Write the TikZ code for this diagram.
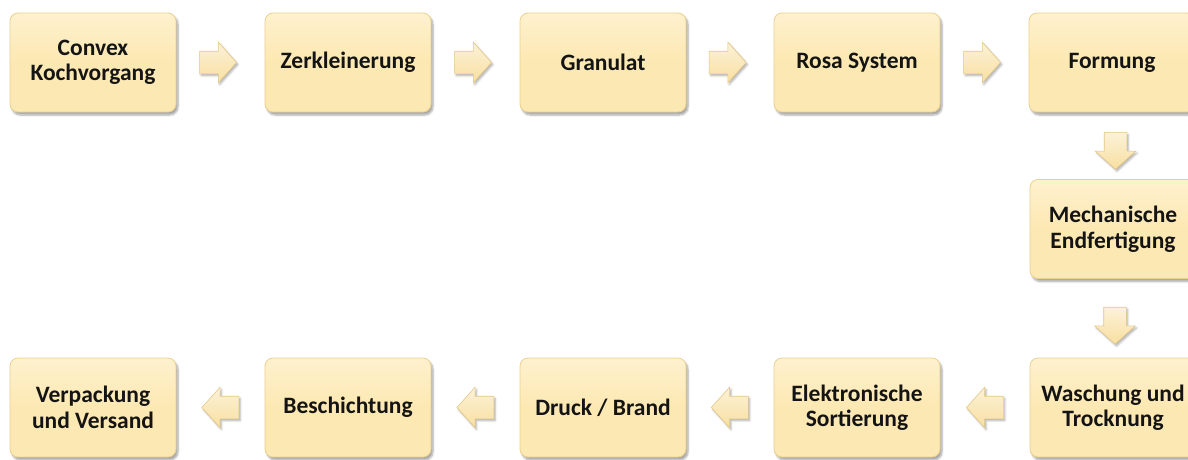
\documentclass[tikz,border=0pt]{standalone}
\usepackage{fontspec}
\setmainfont{Carlito}
\usetikzlibrary{shapes.arrows,shadows.blur,calc}
\definecolor{boxfill}{HTML}{FCE8B2}
\definecolor{boxtop}{HTML}{FEF1CE}
\definecolor{boxedge}{HTML}{EBD08E}
\definecolor{arrfill}{HTML}{F8DFA0}
\definecolor{arredge}{HTML}{E3C786}
\definecolor{txt}{HTML}{141414}
\tikzset{
  stepbox/.style={draw=boxedge, line width=0.8pt, rounded corners=8pt,
    top color=boxtop, bottom color=boxfill, middle color=boxfill,
    minimum width=166pt, minimum height=99pt, inner sep=0pt,
    align=center, text=txt,
    font=\fontsize{23.5pt}{25.5pt}\selectfont\bfseries,
    blur shadow={shadow xshift=2pt, shadow yshift=-3pt, shadow blur steps=6, shadow opacity=35}},
  fatarrow/.style={single arrow, draw=arredge, line width=0.6pt,
    top color=white!60!arrfill, bottom color=arrfill,
    minimum height=37pt, inner xsep=0pt, inner ysep=11pt,
    single arrow head extend=9pt, single arrow tip angle=96,
    blur shadow={shadow xshift=1.5pt, shadow yshift=-2pt, shadow blur steps=4, shadow opacity=30}},
}
\begin{document}
\begin{tikzpicture}[x=1pt,y=-1pt]
\clip (0,0) rectangle (1188,459);
\useasboundingbox (0,0) rectangle (1188,459);
% top row
\node[stepbox] (a1) at (93,62.5) {Convex\\Kochvorgang};
\node[stepbox] (a2) at (348,62.5) {Zerkleinerung};
\node[stepbox] (a3) at (603,62.5) {Granulat};
\node[stepbox] (a4) at (857,62.5) {Rosa System};
\node[stepbox] (a5) at (1112,62.5) {Formung};
% middle
\node[stepbox] (m1) at (1113,229) {Mechanische\\Endfertigung};
% bottom row
\node[stepbox] (b5) at (1113,407.5) {Waschung und\\Trocknung};
\node[stepbox] (b4) at (857,407.5) {Elektronische\\Sortierung};
\node[stepbox] (b3) at (603,407.5) {Druck / Brand};
\node[stepbox] (b2) at (348,407.5) {Beschichtung};
\node[stepbox] (b1) at (93,407.5) {Verpackung\\und Versand};
% arrows
\node[fatarrow] (r1) at ($(a1.east)!0.415!(a2.west)$) {};
\node[fatarrow] (r2) at ($(a2.east)!0.415!(a3.west)$) {};
\node[fatarrow] (r3) at ($(a3.east)!0.415!(a4.west)$) {};
\node[fatarrow] (r4) at ($(a4.east)!0.415!(a5.west)$) {};
\node[fatarrow, rotate=-90] (d1) at ($(a5.south)!0.5!(m1.north)+(3,0)$) {};
\node[fatarrow, rotate=-90] (d2) at ($(m1.south)!0.53!(b5.north)+(2,0)$) {};
\node[fatarrow, shape border rotate=180] (l4) at ($(b5.west)!0.444!(b4.east)$) {};
\node[fatarrow, shape border rotate=180] (l3) at ($(b4.west)!0.444!(b3.east)$) {};
\node[fatarrow, shape border rotate=180] (l2) at ($(b3.west)!0.444!(b2.east)$) {};
\node[fatarrow, shape border rotate=180] (l1) at ($(b2.west)!0.444!(b1.east)$) {};
\end{tikzpicture}
\end{document}
